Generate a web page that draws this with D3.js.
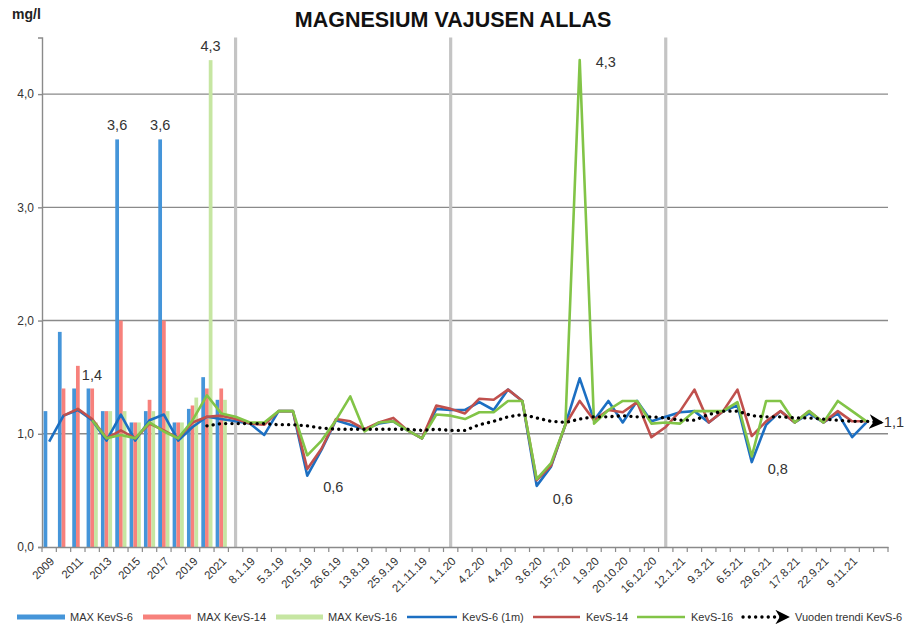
<!DOCTYPE html>
<html><head><meta charset="utf-8">
<script src="https://cdn.jsdelivr.net/npm/d3@7"></script>
<style>
body{margin:0;background:#fff;}
svg{display:block;font-family:"Liberation Sans",Arial,sans-serif;}
</style></head>
<body><svg id="c" width="907" height="630"></svg>
<script>
// ---- data ----
const categories = ["2009","2010","2011","2012","2013","2014","2015","2016","2017","2018","2019","2020","2021","",
  "8.1.19","","5.3.19","","20.5.19","","26.6.19","","13.8.19","","25.9.19","","21.11.19","",
  "1.1.20","","4.2.20","","4.4.20","","3.6.20","","15.7.20","","1.9.20","","20.10.20","","16.12.20","",
  "12.1.21","","9.3.21","","6.5.21","","29.6.21","","17.8.21","","22.9.21","","9.11.21","",""];
const separatorIdx = [13, 28, 43];
const maxKevS6  = [1.2, 1.9, 1.4, 1.4, 1.2, 3.6, 1.1, 1.2, 3.6, 1.1, 1.22, 1.5, 1.3];
const maxKevS14 = [null, 1.4, 1.6, 1.4, 1.2, 2.0, 1.1, 1.3, 2.0, 1.1, 1.25, 1.4, 1.4];
const maxKevS16 = [null, null, null, 1.1, 1.2, 1.2, 1.1, 1.2, 1.2, 1.1, 1.32, 4.3, 1.3];
const kevS6 = [0.93,1.16,1.21,1.12,0.94,1.17,0.94,1.12,1.17,0.94,1.06,1.15,1.13,1.11,
  1.09,0.99,1.2,1.2,0.63,0.86,1.12,1.08,1.04,1.09,1.11,1.03,0.96,1.22,
  1.21,1.21,1.28,1.21,1.39,1.29,0.54,0.71,1.08,1.49,1.12,1.29,1.1,1.29,1.11,
  1.15,1.19,1.2,1.1,1.2,1.25,0.75,1.08,1.2,1.1,1.18,1.1,1.18,0.97,1.1,null];
const kevS14 = [null,1.16,1.22,1.13,0.96,1.03,0.96,1.09,1.03,0.96,1.1,1.15,1.16,1.13,
  1.09,1.08,1.2,1.2,0.69,0.87,1.13,1.11,1.04,1.1,1.14,1.03,0.96,1.25,
  1.22,1.18,1.31,1.3,1.39,1.29,0.59,0.72,1.08,1.29,1.12,1.21,1.19,1.28,0.97,
  1.06,1.2,1.39,1.1,1.2,1.39,0.98,1.11,1.2,1.1,1.2,1.1,1.2,1.11,1.11,null];
const kevS16 = [null,null,null,1.12,0.96,0.99,0.96,1.1,1.02,0.96,1.12,1.34,1.18,1.15,
  1.1,1.1,1.2,1.2,0.81,0.94,1.12,1.33,1.02,1.1,1.11,1.03,0.96,1.17,
  1.16,1.13,1.19,1.19,1.29,1.29,0.6,0.74,1.08,4.3,1.09,1.21,1.29,1.29,1.09,
  1.1,1.09,1.2,1.2,1.2,1.28,0.8,1.29,1.29,1.1,1.2,1.1,1.29,1.2,1.11,null];
const trendKevS6 = [null,null,null,null,null,null,null,null,null,null,null,1.07,1.09,1.09,
  1.09,1.09,1.08,1.08,1.07,1.05,1.04,1.04,1.04,1.04,1.04,1.04,1.03,1.04,
  1.03,1.03,1.08,1.11,1.15,1.17,1.14,1.11,1.1,1.13,1.15,1.15,1.16,1.15,1.15,
  1.14,1.12,1.12,1.17,1.2,1.2,1.16,1.15,1.15,1.14,1.14,1.13,1.12,1.11,1.11,1.1];
const yTicks = [0, 1, 2, 3, 4];
const title = "MAGNESIUM VAJUSEN ALLAS";
const unit = "mg/l";
const legendNames = ["MAX KevS-6","MAX KevS-14","MAX KevS-16","KevS-6 (1m)","KevS-14","KevS-16","Vuoden trendi KevS-6"];
// data labels: [series, index, text]
const barLabels = [["b6",5,"3,6"],["b6",8,"3,6"],["b16",11,"4,3"]];

// ---- chart ----
const svg = d3.select("#c");
const colors = {b6:"#4595d9", b14:"#f7817c", b16:"#c6e6a2", l6:"#1c6fc2", l14:"#c0504d", l16:"#82c447"};
const x = d3.scaleBand().domain(d3.range(categories.length)).range([42, 888]).padding(0);
const y = d3.scaleLinear().domain([0, 4.5]).range([547, 37.5]);
const cx = i => x(i) + x.bandwidth()/2;
const bw = x.bandwidth()*0.26;

// title
svg.append("text").attr("x", 453).attr("y", 27).attr("text-anchor","middle")
  .attr("font-size", 21.5).attr("font-weight","bold").attr("fill","#111").text(title);
svg.append("text").attr("x", 12).attr("y", 19).attr("font-size", 14).attr("font-weight","bold")
  .attr("fill","#222").text(unit);

// gridlines
svg.append("g").selectAll("line").data(yTicks.filter(d=>d>0)).join("line")
  .attr("x1", 42).attr("x2", 888).attr("y1", d=>y(d)).attr("y2", d=>y(d))
  .attr("stroke","#8a8a8a").attr("stroke-width",1.4);

// separators
svg.append("g").selectAll("line").data(separatorIdx).join("line")
  .attr("x1", d=>cx(d)).attr("x2", d=>cx(d)).attr("y1", y(4.5)).attr("y2", y(0))
  .attr("stroke","#c4c4c4").attr("stroke-width",3.2);

// bars
const barSeries = [[maxKevS6, colors.b6, -1.5],[maxKevS14, colors.b14, -0.5],[maxKevS16, colors.b16, 0.5]];
barSeries.forEach(([vals, col, off]) => {
  svg.append("g").selectAll("rect").data(vals.map((v,i)=>({v,i})).filter(d=>d.v!=null)).join("rect")
    .attr("x", d=>cx(d.i)+off*bw).attr("width", bw)
    .attr("y", d=>y(d.v)).attr("height", d=>y(0)-y(d.v)).attr("fill", col);
});

// axes
const yAxis = svg.append("g").attr("transform","translate(42,0)")
  .call(d3.axisLeft(y).tickValues(yTicks).tickSize(4).tickFormat(d=>d.toFixed(1).replace(".",",")));
yAxis.select(".domain").attr("stroke","#8a8a8a").attr("stroke-width",1.4);
yAxis.selectAll(".tick line").attr("stroke","#8a8a8a").attr("stroke-width",1.4);
yAxis.selectAll("text").attr("font-size",12).attr("fill","#333").attr("x",-8)
  .attr("font-family","'Liberation Sans',Arial,sans-serif");

const xAxis = svg.append("g").attr("transform","translate(0,547)")
  .call(d3.axisBottom(x).tickSize(0).tickFormat(i => i%2===0 ? categories[i] : ""));
xAxis.select(".domain").attr("stroke","#8a8a8a").attr("stroke-width",1.6);
xAxis.selectAll("text").attr("font-size",11.5).attr("fill","#333")
  .attr("font-family","'Liberation Sans',Arial,sans-serif")
  .attr("text-anchor","end").attr("x",0).attr("y",0).attr("dy","0.35em")
  .attr("transform","translate(3,12) rotate(-45)");
// boundary tick marks
svg.append("g").selectAll("line").data(d3.range(categories.length+1)).join("line")
  .attr("x1", i => i<categories.length ? x(i) : x.range()[1])
  .attr("x2", i => i<categories.length ? x(i) : x.range()[1])
  .attr("y1", 547).attr("y2", 552).attr("stroke","#8a8a8a").attr("stroke-width",1.2);

// lines (green on top, as in the reference)
[[kevS6, colors.l6],[kevS14, colors.l14],[kevS16, colors.l16]].forEach(([vals,col])=>{
  svg.append("path").datum(vals)
    .attr("d", d3.line().defined(d=>d!=null).x((d,i)=>cx(i)).y(d=>y(d)))
    .attr("fill","none").attr("stroke",col).attr("stroke-width",2.6).attr("stroke-linejoin","round");
});
// trend
const defs = svg.append("defs");
defs.append("marker").attr("id","arr").attr("viewBox","0 0 10 10").attr("refX",8).attr("refY",5)
  .attr("markerWidth",4.4).attr("markerHeight",4.4).attr("markerUnits","strokeWidth").attr("orient","auto")
  .append("path").attr("d","M0,0 L10,5 L0,10 L3,5 Z").attr("fill","#000");
svg.append("path").datum(trendKevS6)
  .attr("d", d3.line().defined(d=>d!=null).x((d,i)=>cx(i)).y(d=>y(d)))
  .attr("fill","none").attr("stroke","#000").attr("stroke-width",3.3)
  .attr("stroke-dasharray","0.1 6.2").attr("stroke-linecap","round")
  .attr("marker-end","url(#arr)");

// data labels
const lab = (xx, yy, t, anchor) => svg.append("text").attr("x",xx).attr("y",yy)
  .attr("text-anchor",anchor||"middle").attr("font-size",14.5).attr("fill","#333").text(t);
const barSrc = {b6:[maxKevS6,-1], b14:[maxKevS14,0], b16:[maxKevS16,1]};
barLabels.forEach(([s,i,t]) => { const [vals,o]=barSrc[s]; lab(cx(i)+o*bw, y(vals[i])-9, t); });
lab(cx(2)+4, y(maxKevS14[2])+14, "1,4", "start");
lab(cx(18)+16, y(kevS6[18])+16, "0,6", "start");
lab(cx(34)+16, y(kevS6[34])+18, "0,6", "start");
lab(cx(37)+16, y(kevS16[37])+7, "4,3", "start");
lab(cx(49)+16, y(kevS6[49])+12, "0,8", "start");
lab(cx(58)+3, y(trendKevS6[58])+5, "1,1", "start");

// legend
const lg = svg.append("g").attr("font-size",11).attr("fill","#333");
const legItems = [
  {type:"rect", col:colors.b6, x0:17, x1:65, tx:70},
  {type:"rect", col:colors.b14, x0:143, x1:191, tx:197},
  {type:"rect", col:colors.b16, x0:276, x1:323, tx:328},
  {type:"line", col:colors.l6, x0:407, x1:457, tx:462},
  {type:"line", col:colors.l14, x0:533, x1:580, tx:586},
  {type:"line", col:colors.l16, x0:637, x1:685, tx:691},
  {type:"trend", col:"#000", x0:743, x1:787, tx:795}
];
legItems.forEach((it,k)=>{
  if(it.type==="rect") lg.append("rect").attr("x",it.x0).attr("y",614.5).attr("width",it.x1-it.x0).attr("height",5).attr("fill",it.col);
  else if(it.type==="line") lg.append("line").attr("x1",it.x0).attr("x2",it.x1).attr("y1",617).attr("y2",617).attr("stroke",it.col).attr("stroke-width",2.6);
  else lg.append("line").attr("x1",it.x0).attr("x2",it.x1).attr("y1",617).attr("y2",617).attr("stroke","#000").attr("stroke-width",3.3)
    .attr("stroke-dasharray","0.1 6.2").attr("stroke-linecap","round").attr("marker-end","url(#arr)");
  lg.append("text").attr("x",it.tx).attr("y",621).text(legendNames[k]);
});
</script></body></html>
